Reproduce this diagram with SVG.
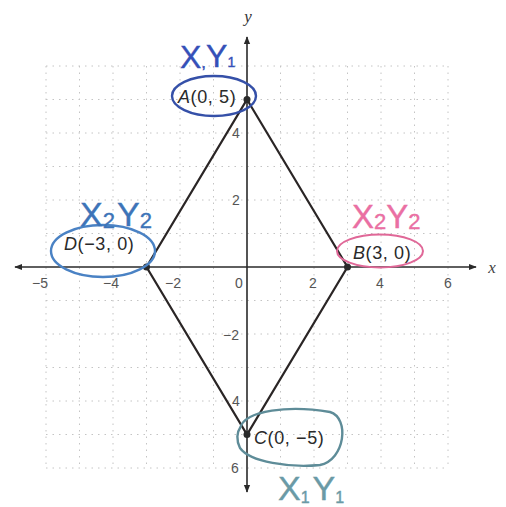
<svg xmlns="http://www.w3.org/2000/svg" width="506" height="507" viewBox="0 0 506 507">
<defs>
<style>
.grid{stroke:#c4c4c4;stroke-width:1;stroke-dasharray:1.5 5;fill:none}
.axis{stroke:#2a2a2a;stroke-width:1.6;fill:none}
.edge{stroke:#2a2525;stroke-width:2.2;fill:none}
.tick{font-family:"Liberation Sans",Arial,sans-serif;font-size:14px;fill:#555;text-anchor:middle}
.lbl{font-family:"Liberation Sans",Arial,sans-serif;font-size:18px;fill:#2a2a2a;letter-spacing:0.6px}
.hand{font-family:"Liberation Sans",Arial,sans-serif;stroke-width:0.4}
.sub{font-size:17px}
</style>
<marker id="arr" viewBox="0 0 10 10" refX="9" refY="5" markerWidth="8" markerHeight="8" orient="auto-start-reverse" markerUnits="userSpaceOnUse">
<path d="M0,1 L10,5 L0,9 Z" fill="#2a2a2a"/>
</marker>
</defs>
<rect width="506" height="507" fill="#ffffff"/>
<g id="grid">
<path class="grid" d="M46,66V468M79.5,66V468M113,66V468M146.5,66V468M180,66V468M213.5,66V468M280.5,66V468M314,66V468M347.5,66V468M381,66V468M414.5,66V468M448,66V468"/>
<path class="grid" d="M46,66H448M46,99.5H448M46,133H448M46,166.5H448M46,200H448M46,233.5H448M46,300.5H448M46,334H448M46,367.5H448M46,401H448M46,434.5H448M46,468H448"/>
</g>
<g id="axes">
<line class="axis" x1="15" y1="267" x2="476" y2="267" marker-start="url(#arr)" marker-end="url(#arr)"/>
<line class="axis" x1="247" y1="37" x2="247" y2="492" marker-start="url(#arr)" marker-end="url(#arr)"/>
<text x="492" y="273" font-family="Liberation Serif,serif" font-style="italic" font-size="17" fill="#444" text-anchor="middle">x</text>
<text x="248" y="22" font-family="Liberation Serif,serif" font-style="italic" font-size="17" fill="#333" text-anchor="middle">y</text>
</g>
<g id="ticks">
<text class="tick" x="40" y="288">−5</text>
<text class="tick" x="111" y="288">−4</text>
<text class="tick" x="173" y="288">−2</text>
<text class="tick" x="239" y="288">0</text>
<text class="tick" x="313" y="288">2</text>
<text class="tick" x="380" y="288">4</text>
<text class="tick" x="448" y="288">6</text>
<text class="tick" x="236" y="138">4</text>
<text class="tick" x="236" y="205">2</text>
<text class="tick" x="231" y="340">−2</text>
<text class="tick" x="236" y="406">4</text>
<text class="tick" x="235" y="473">6</text>
</g>
<g id="connectors">
<path class="edge" d="M247,99.5 L347.5,267 L247,434.5 L146.5,267 Z"/>
</g>
<g id="nodeA">
<circle cx="247" cy="99.5" r="3.5" fill="#2a2a2a"/>
<ellipse cx="214" cy="96" rx="42" ry="20" fill="none" stroke="#3550a8" stroke-width="2.4"/>
<text class="lbl" x="178" y="103"><tspan font-style="italic">A</tspan>(0, 5)</text>
<text class="hand" x="180" y="68" font-size="32" fill="#3550b8" stroke="#3550b8">X<tspan class="sub">,</tspan><tspan dy="-1">Y</tspan><tspan font-size="14">1</tspan></text>
</g>
<g id="nodeB">
<circle cx="347.5" cy="267" r="3.5" fill="#2a2a2a"/>
<ellipse cx="380" cy="251" rx="43" ry="16.5" fill="none" stroke="#e06898" stroke-width="2"/>
<text class="lbl" x="353" y="259"><tspan font-style="italic">B</tspan>(3, 0)</text>
<text class="hand" x="352" y="228" font-size="33" fill="#ea6fa3" stroke="#ea6fa3">X<tspan font-size="22" dy="1">2</tspan><tspan dy="-1">Y</tspan><tspan font-size="22" dy="1">2</tspan></text>
</g>
<g id="nodeC">
<circle cx="247" cy="434.5" r="3.5" fill="#2a2a2a"/>
<path d="M240,428 C245,410 290,405 330,412 C350,418 345,460 320,465 C290,468 250,462 240,448 C236,440 237,432 240,428 Z" fill="none" stroke="#5e8c98" stroke-width="2.4"/>
<text class="lbl" x="254" y="444"><tspan font-style="italic">C</tspan>(0, −5)</text>
<text class="hand" x="278" y="500" font-size="34" fill="#6a9aa6" stroke="#6a9aa6">X<tspan font-size="16" dy="3">1</tspan><tspan dy="-3" dx="3">Y</tspan><tspan font-size="16" dy="3">1</tspan></text>
</g>
<g id="nodeD">
<circle cx="146.5" cy="267" r="3.5" fill="#2a2a2a"/>
<ellipse cx="103" cy="251" rx="52" ry="26" fill="none" stroke="#4a82c4" stroke-width="2.4"/>
<text class="lbl" x="64" y="250"><tspan font-style="italic">D</tspan>(−3, 0)</text>
<text class="hand" x="80" y="226" font-size="34" fill="#3d74b8" stroke="#3d74b8">X<tspan font-size="22" dy="2">2</tspan><tspan dy="-2" dx="2">Y</tspan><tspan font-size="22" dy="2">2</tspan></text>
</g>
</svg>
